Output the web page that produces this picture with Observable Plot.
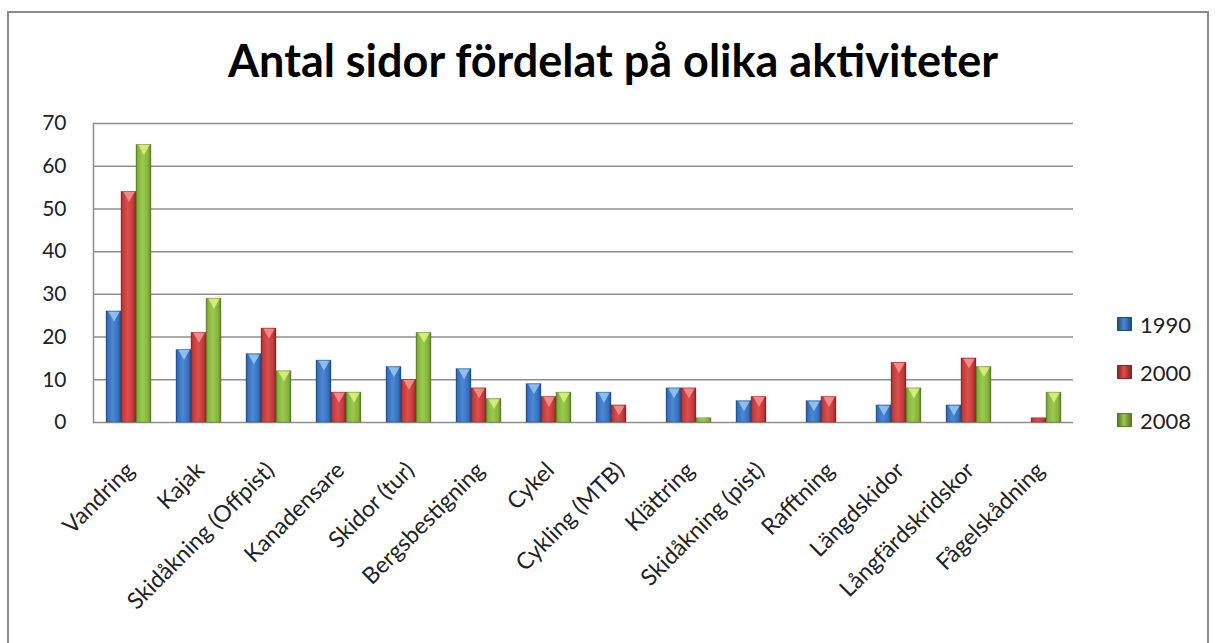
<!DOCTYPE html>
<html>
<head>
<meta charset="utf-8">
<script src="https://cdn.jsdelivr.net/npm/d3@7"></script>
<script src="https://cdn.jsdelivr.net/npm/@observablehq/plot@0.6"></script>
<style>
  html, body { margin: 0; padding: 0; background: #fff; }
  body { width: 1217px; height: 643px; position: relative; overflow: hidden; font-family: Lato, "Noto Sans", sans-serif; }
  #box { position: absolute; left: 7px; top: 11px; width: 1202px; height: 640px; border: 2px solid #8a8a8a; border-bottom: none; box-sizing: border-box; }
  #title { position: absolute; left: 0; top: 33px; width: 1226px; text-align: center; font-size: 45px; font-weight: 700; color: #000; white-space: nowrap; }
  #chart { position: absolute; left: 0; top: 0; }
  #legend { position: absolute; left: 1117px; top: 0; }
  .item { position: absolute; left: 0; display: flex; align-items: center; white-space: nowrap; font-size: 22px; color: #222; }
  .sw { width: 15px; height: 14px; margin-right: 8px; box-sizing: border-box; }
</style>
</head>
<body>
<div id="box"></div>
<div id="chart"></div>
<div id="title">Antal sidor fördelat på olika aktiviteter</div>
<div id="legend"></div>
<script>
const categories = ["Vandring", "Kajak", "Skidåkning (Offpist)", "Kanadensare", "Skidor (tur)", "Bergsbestigning", "Cykel", "Cykling (MTB)", "Klättring", "Skidåkning (pist)", "Rafftning", "Längdskidor", "Långfärdskridskor", "Fågelskådning"];
const years = ["1990", "2000", "2008"];
const values1990 = [26, 17, 16, 14.5, 13, 12.5, 9, 7, 8, 5, 5, 4, 4, 0];
const values2000 = [54, 21, 22, 7, 10, 8, 6, 4, 8, 6, 6, 14, 15, 1];
const values2008 = [65, 29, 12, 7, 21, 5.5, 7, 0, 1, 0, 0, 8, 13, 7];
const yTicks = [0, 10, 20, 30, 40, 50, 60, 70];

const seriesStyle = {
  "1990": {dark: "#1f4c86", base: "#3670bd", light: "#4c88d4", tri: "#93c4f2"},
  "2000": {dark: "#8a2322", base: "#c3393a", light: "#d9504e", tri: "#f4908d"},
  "2008": {dark: "#5a7a22", base: "#86b33c", light: "#9dc951", tri: "#d9f07f"}
};

const seriesValues = {"1990": values1990, "2000": values2000, "2008": values2008};
const data = [];
for (const yr of years) {
  categories.forEach((c, i) => data.push({category: c, year: yr, value: seriesValues[yr][i]}));
}

const barMarks = years.map(yr => Plot.barY(data.filter(d => d.year === yr), {
  fx: "category", x: "year", y: "value",
  fill: `url(#grad${yr})`, stroke: seriesStyle[yr].dark, strokeWidth: 0.6, strokeOpacity: 0.6
}));
const triMarks = years.map(yr => Plot.dot(data.filter(d => d.year === yr && d.value >= 2), {
  fx: "category", x: "year", y: "value",
  symbol: "triangle", rotate: 180, r: 4.2, dy: 3.5,
  fill: seriesStyle[yr].tri, fillOpacity: 0.9, stroke: "none"
}));

const chart = Plot.plot({
  width: 1217,
  height: 643,
  marginTop: 123,
  marginBottom: 221,
  marginLeft: 90,
  marginRight: 142,
  style: {fontFamily: "Lato, 'Noto Sans', sans-serif", color: "#222", background: "transparent"},
  fx: {domain: categories, padding: 0, label: null},
  x: {domain: years, paddingInner: 0, paddingOuter: 0.74, axis: null},
  y: {domain: [0, 70], label: null},
  marks: [
    Plot.ruleY(yTicks, {stroke: "#8e8e8e", strokeWidth: 1.5}),
    Plot.frame({anchor: "left", facet: "super", stroke: "#8e8e8e", strokeWidth: 1.5}),
    ...barMarks,
    ...triMarks,
    Plot.axisY({ticks: yTicks, tickSize: 0, tickPadding: 27, fontSize: 21, label: null}),
    Plot.axisFx({anchor: "bottom", tickRotate: -45, tickSize: 0, tickPadding: 24, dy: 20, dx: 2, fontSize: 23, label: null})
  ]
});

const svg = d3.select(chart);
const defs = svg.insert("defs", ":first-child");
for (const yr of years) {
  const s = seriesStyle[yr];
  const g = defs.append("linearGradient").attr("id", `grad${yr}`).attr("x1", "0").attr("x2", "1").attr("y1", "0").attr("y2", "0");
  [[0, s.dark], [0.12, s.base], [0.45, s.light], [0.82, s.base], [1, s.dark]].forEach(([o, c]) =>
    g.append("stop").attr("offset", o).attr("stop-color", c));
}
document.getElementById("chart").appendChild(chart);

const legend = document.getElementById("legend");
const legendTops = [324, 372, 420];
years.forEach((yr, i) => {
  const s = seriesStyle[yr];
  const item = document.createElement("div");
  item.className = "item";
  item.style.top = (legendTops[i] - 14) + "px";
  item.style.height = "28px";
  const sw = document.createElement("span");
  sw.className = "sw";
  sw.style.background = `linear-gradient(to right, ${s.dark}, ${s.light} 45%, ${s.dark})`;
  sw.style.border = `1px solid ${s.dark}`;
  const t = document.createElement("span");
  t.textContent = yr;
  item.appendChild(sw);
  item.appendChild(t);
  legend.appendChild(item);
});
</script>
</body>
</html>
